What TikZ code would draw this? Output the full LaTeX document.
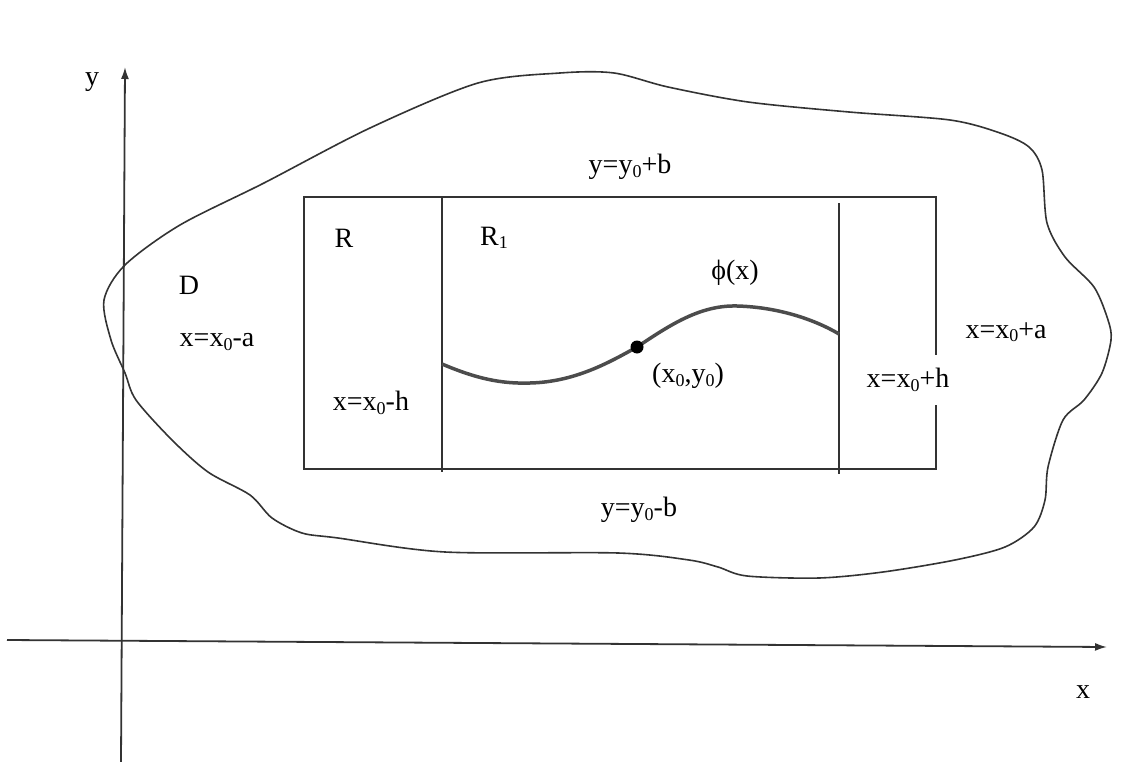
\documentclass[tikz,border=0pt]{standalone}
\usepackage{fontspec}
\setmainfont{Liberation Serif}
\usetikzlibrary{arrows.meta}
\newcommand\sbs[1]{\raisebox{-0.28ex}{\fontsize{18}{18}\selectfont #1}}
\begin{document}
\begin{tikzpicture}[x=1pt,y=-1pt,
  ln/.style={draw=black!80, line width=1.8pt},
  lbl/.style={font=\fontsize{28}{32}\selectfont, inner sep=1pt},
  tip/.style={-{Latex[length=12pt,width=8pt]}}]
\useasboundingbox (0,0) rectangle (1126,762);
% axes
\coordinate (ya0) at (121,762);
\coordinate (ya1) at (125,67);
\coordinate (xa0) at (7,640);
\coordinate (xa1) at (1107,647);
\draw[ln, tip] (ya0) -- (ya1);
\draw[ln, tip] (xa0) -- (xa1);
\node[lbl] (ylab) at (92,82) {y};
\node[lbl] (xlab) at (1083,692) {x};
% region D
\draw[ln, line width=1.6pt] plot[smooth cycle, tension=0.5] coordinates {
 (104,300) (125,265) (180,225) (264,183) (370,128) (478,83) (560,73) (614,73)
 (668,87) (748,102) (849,112) (950,120) (1000,133) (1029,147) (1042,170) (1047,223)
 (1065,257) (1094,287) (1108,320) (1111,340) (1102,373) (1084,400) (1063,420)
 (1048,467) (1045,500) (1034,527) (1005,547) (955,560) (883,572) (819,578)
 (747,576) (718,567) (689,560) (618,553) (445,552) (338,538) (302,533) (272,518)
 (250,495) (208,472) (172,440) (136,400) (125,373) (111,340)};
% rectangle R
\coordinate (rtl) at (304,197);
\coordinate (rbr) at (936,469);
\draw[ln] (rtl) rectangle (rbr);
\coordinate (v1t) at (442,197);
\coordinate (v1b) at (442,472);
\coordinate (v2t) at (839,203);
\coordinate (v2b) at (839,474);
\draw[ln] (v1t) -- (v1b);
\draw[ln] (v2t) -- (v2b);
% phi curve
\coordinate (c0) at (442,364);
\coordinate (c1) at (530,383);
\coordinate (p0) at (637,347);
\coordinate (c3) at (737,306);
\coordinate (c4) at (839,334);
\draw[draw=black!70, line width=3.5pt]
  (c0) .. controls (475,378) and (500,384) .. (c1)
  .. controls (575,382) and (610,362) .. (p0)
  .. controls (670,325) and (700,305) .. (c3)
  .. controls (775,307) and (812,318) .. (c4);
\fill[black] (p0) circle (6.5);
% labels
\node[lbl] (Dlab) at (189,285) {D};
\node[lbl] (Rlab) at (344,238) {R};
\node[lbl] (R1lab) at (494,238) {R\sbs{1}};
\node[lbl] (phil) at (735,273) {ϕ(x)};
\node[lbl] (ytop) at (630,167) {y=y\sbs{0}+b};
\node[lbl] (ybot) at (639,510) {y=y\sbs{0}-b};
\node[lbl] (xma) at (217,342) {x=x\sbs{0}-a};
\node[lbl] (xpa) at (1006,332) {x=x\sbs{0}+a};
\node[lbl] (xmh) at (371,403) {x=x\sbs{0}-h};
\node[lbl, fill=white, inner ysep=13pt] (xph) at (908,380) {x=x\sbs{0}+h};
\node[lbl] (x0y0) at (688,376) {(x\sbs{0},y\sbs{0})};
\end{tikzpicture}
\end{document}
